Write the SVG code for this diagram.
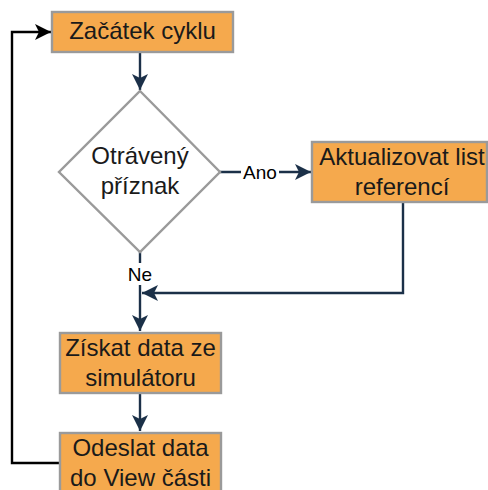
<svg xmlns="http://www.w3.org/2000/svg" width="488" height="490" viewBox="0 0 488 490">
<style>
.box{fill:#F5A94D;stroke:#9a9a9a;stroke-width:2.4}
.dia{fill:#ffffff;stroke:#9a9a9a;stroke-width:2.4}
.t{font-family:"Liberation Sans",Arial,sans-serif;font-size:24px;fill:#1a1a1a;text-anchor:middle}
.lbl{font-family:"Liberation Sans",Arial,sans-serif;font-size:19px;fill:#000;text-anchor:middle}
.c{fill:none;stroke:#1b3048;stroke-width:2.4}
.k{fill:none;stroke:#000;stroke-width:2.4}
</style>
<defs>
<marker id="a" markerUnits="userSpaceOnUse" markerWidth="20" markerHeight="20" refX="16" refY="8" orient="auto" overflow="visible">
<path d="M0,0 L16,8 L0,16 L4,8 Z" fill="#1b3048"/>
</marker>
<marker id="ak" markerUnits="userSpaceOnUse" markerWidth="20" markerHeight="20" refX="16" refY="8" orient="auto" overflow="visible">
<path d="M0,0 L16,8 L0,16 L4,8 Z" fill="#000"/>
</marker>
</defs>
<g id="connectors">
<path class="c" d="M140,53 L140,90" marker-end="url(#a)"/>
<path class="c" d="M220,172 L311,172" marker-end="url(#a)"/>
<path class="c" d="M140,252 L140,331" marker-end="url(#a)"/>
<path class="c" d="M403,202 L403,293 L142,293" marker-end="url(#a)"/>
<path class="c" d="M140,393 L140,431" marker-end="url(#a)"/>
<path class="k" d="M60,463 L12,463 L12,32 L51,32" marker-end="url(#ak)"/>
<rect x="241" y="162" width="38" height="20" fill="#fff"/>
<text class="lbl" x="260" y="178.5">Ano</text>
<rect x="126" y="263" width="28" height="22" fill="#fff"/>
<text class="lbl" x="140" y="280.5">Ne</text>
</g>
<g id="start">
<rect class="box" x="52" y="12" width="181" height="40"/>
<text class="t" x="142.5" y="39">Začátek cyklu</text>
</g>
<g id="decision">
<path class="dia" d="M140,91 L220,172 L140,252 L59,172 Z"/>
<text class="t" x="140" y="164">Otrávený</text>
<text class="t" x="140" y="194">příznak</text>
</g>
<g id="update">
<rect class="box" x="312" y="142" width="175" height="60"/>
<text class="t" x="402" y="165">Aktualizovat list</text>
<text class="t" x="402" y="194.5">referencí</text>
</g>
<g id="get">
<rect class="box" x="60" y="333" width="161" height="60"/>
<text class="t" x="140.5" y="356">Získat data ze</text>
<text class="t" x="140.5" y="385.5">simulátoru</text>
</g>
<g id="send">
<rect class="box" x="60" y="433" width="161" height="60"/>
<text class="t" x="140.5" y="456">Odeslat data</text>
<text class="t" x="140.5" y="485.5">do View části</text>
</g>
</svg>
